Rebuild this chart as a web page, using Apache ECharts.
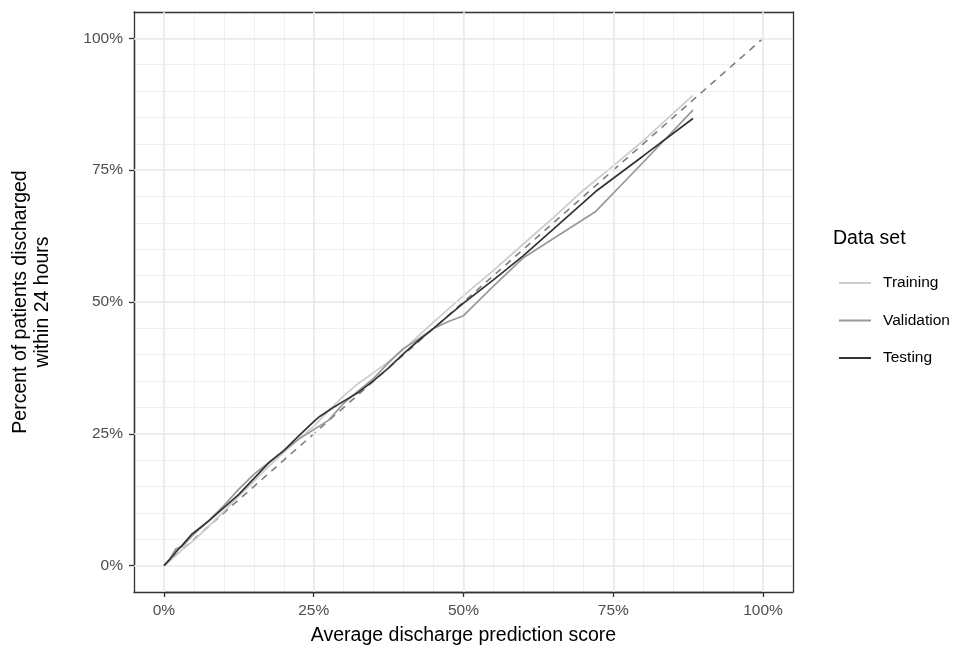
<!DOCTYPE html>
<html>
<head>
<meta charset="utf-8">
<script src="https://cdn.jsdelivr.net/npm/echarts@6/dist/echarts.min.js"></script>
<style>
html,body{margin:0;padding:0;background:#fff;}
#chart{width:972px;height:652px;}
</style>
</head>
<body>
<div id="chart"></div>
<script>
// ---- data (percent) ----
const majorTicks = [0, 25, 50, 75, 100];
const refX = [0, 100];
const refY = [0, 100];

const trainX = [0, 1, 2, 3, 5, 7.5, 10, 12.5, 15, 17.5, 20, 22.5, 25, 27.5, 30, 32.5, 35, 37.5, 40, 45, 50, 55, 60, 65, 70, 75, 80, 88.3];
const trainY = [0, 0.9, 1.9, 3, 4.8, 7.5, 10.3, 13.2, 16, 18.8, 21.5, 24, 26.4, 29.4, 32.2, 34.6, 36.6, 38.7, 41, 46.2, 51.2, 56, 61, 66, 71.2, 75.8, 80.6, 89.2];

const valX = [0, 1, 2, 3, 4, 5, 7.5, 10, 12.5, 15, 17.5, 20, 22.5, 25, 27.5, 30, 32.5, 35, 37.5, 40, 42.5, 45, 47.5, 50, 55, 60, 72, 80, 88.3];
const valY = [0, 1.3, 3.2, 3.6, 4.8, 6, 8.6, 11.4, 14.5, 17.3, 19.6, 21.8, 24, 25.8, 27.6, 30.8, 33.2, 35.5, 38.5, 41.2, 43, 45, 46.3, 47.4, 53, 58.4, 67.1, 76.5, 86.4];

const testX = [0, 1, 2, 3, 4.6, 7.5, 10, 12.5, 15, 17.5, 20, 22.5, 25, 26, 28, 30, 32.5, 35, 37.5, 40, 42.5, 45, 47.5, 50, 55, 60, 65, 72, 80, 88.3];
const testY = [0, 1.2, 2.6, 3.8, 5.9, 8.5, 11, 13.5, 16.5, 19.5, 21.8, 24.6, 27.3, 28.3, 29.8, 31.2, 32.9, 35.1, 37.5, 40.2, 42.7, 45, 47.4, 49.8, 54.2, 58.8, 63.8, 70.9, 77.7, 84.8];

const seriesNames = ['Training', 'Validation', 'Testing'];
const seriesColors = ['#CCCCCC', '#989898', '#333333'];

function pairs(xs, ys) { return xs.map((x, i) => [x, ys[i]]); }

const FONT = "'Liberation Sans', Arial, Helvetica, sans-serif";
const BORDER = {show: true, onZero: false, lineStyle: {color: '#333333', width: 1.3}};

// panel geometry (axis range -5..105 on both axes)
const G = {left: 134, top: 12, width: 659, height: 580};
const AMIN = -5, AMAX = 105, SPAN = AMAX - AMIN;
const ux = G.width / SPAN, uy = G.height / SPAN;
// inner grid covering 0..100 (used only for ticks & labels)
const G2 = {left: G.left + (0 - AMIN) * ux, top: G.top + (AMAX - 100) * uy,
            width: 100 * ux, height: 100 * uy};
const offX = (G.top + G.height) - (G2.top + G2.height);
const offY = G2.left - G.left;

const chart = echarts.init(document.getElementById('chart'), null, {renderer: 'canvas'});

function gridAxis(isX) {
  return {
    gridIndex: 0, type: 'value', min: AMIN, max: AMAX, interval: 5,
    position: isX ? 'bottom' : 'left',
    axisLine: BORDER, axisTick: {show: false}, axisLabel: {show: false},
    splitLine: {show: true, showMinLine: false, showMaxLine: false, lineStyle: {color: '#EFEFEF', width: 1}}
  };
}
function frameAxis(isX) {
  return {
    gridIndex: 0, type: 'value', min: AMIN, max: AMAX,
    position: isX ? 'top' : 'right',
    axisLine: BORDER, axisTick: {show: false}, axisLabel: {show: false},
    splitLine: {show: false}
  };
}
function labelAxis(isX, name) {
  return {
    gridIndex: 1, type: 'value', min: 0, max: 100, interval: 25,
    position: isX ? 'bottom' : 'left', offset: isX ? offX : offY,
    axisLine: BORDER,
    splitLine: {show: false},
    axisTick: {show: true, inside: false, length: 5, lineStyle: {color: '#333333', width: 1.3}},
    axisLabel: {show: true, formatter: v => v + '%', showMinLabel: true, showMaxLabel: true,
      color: '#4D4D4D', fontSize: 15.5, fontFamily: FONT, margin: 11},
    name: name, nameLocation: 'middle', nameGap: isX ? 33 : 80,
    nameTextStyle: {color: '#000', fontSize: 19.5, fontFamily: FONT, lineHeight: 22}
  };
}

const dataSeries = seriesNames.map((n, i) => ({
  name: n, type: 'line', xAxisIndex: 0, yAxisIndex: 0, z: 4 + i,
  data: pairs([trainX, valX, testX][i], [trainY, valY, testY][i]),
  showSymbol: false, symbol: 'none', smooth: false, animation: false,
  lineStyle: {color: seriesColors[i], width: 1.7},
  itemStyle: {color: seriesColors[i]}
}));

// tick marks just outside the panel, at the major break values
const tickLen = 5 / uy, tickLenX = 5 / ux;
const tickMarks = majorTicks.map(v => [{coord: [v, AMIN]}, {coord: [v, AMIN - tickLen]}])
  .concat(majorTicks.map(v => [{coord: [AMIN, v]}, {coord: [AMIN - tickLenX, v]}]));

chart.setOption({
  backgroundColor: '#ffffff',
  animation: false,
  textStyle: {fontFamily: FONT},
  title: {text: 'Data set', left: 828, top: 224,
    textStyle: {fontSize: 19.5, fontWeight: 'normal', color: '#000', fontFamily: FONT}},
  legend: {
    data: seriesNames, orient: 'vertical', left: 834, top: 270,
    icon: 'rect', itemWidth: 32, itemHeight: 2, itemGap: 21.5,
    textStyle: {fontSize: 15.5, color: '#000', fontFamily: FONT, padding: [0, 0, 0, 7]}
  },
  grid: [
    Object.assign({show: false}, G),
    Object.assign({show: false}, G2)
  ],
  xAxis: [gridAxis(true), frameAxis(true), labelAxis(true, 'Average discharge prediction score')],
  yAxis: [gridAxis(false), frameAxis(false), labelAxis(false, 'Percent of patients discharged\nwithin 24 hours')],
  series: [
    {
      name: 'grid-major', type: 'line', xAxisIndex: 0, yAxisIndex: 0, z: 1,
      data: pairs(refX, refY), showSymbol: false, symbol: 'none',
      lineStyle: {opacity: 0}, silent: true, animation: false,
      markLine: {
        silent: true, symbol: 'none', animation: false,
        label: {show: false},
        lineStyle: {color: '#EAEAEA', width: 1.6, type: 'solid'},
        emphasis: {disabled: true},
        data: majorTicks.map(v => ({xAxis: v})).concat(majorTicks.map(v => ({yAxis: v})))
      }
    },
    {
      name: 'ticks', type: 'line', xAxisIndex: 0, yAxisIndex: 0, z: 8, clip: false,
      data: pairs(refX, refY), showSymbol: false, symbol: 'none',
      lineStyle: {opacity: 0}, silent: true, animation: false,
      markLine: {
        silent: true, symbol: 'none', animation: false,
        label: {show: false},
        lineStyle: {color: '#333333', width: 1.3, type: 'solid'},
        emphasis: {disabled: true},
        data: tickMarks
      }
    },
    {
      name: 'reference', type: 'line', xAxisIndex: 0, yAxisIndex: 0, z: 3,
      data: pairs(refX, refY), showSymbol: false, symbol: 'none', silent: true,
      lineStyle: {color: '#7F7F7F', width: 1.6, type: [7, 6]}, animation: false
    }
  ].concat(dataSeries)
});
</script>
</body>
</html>
